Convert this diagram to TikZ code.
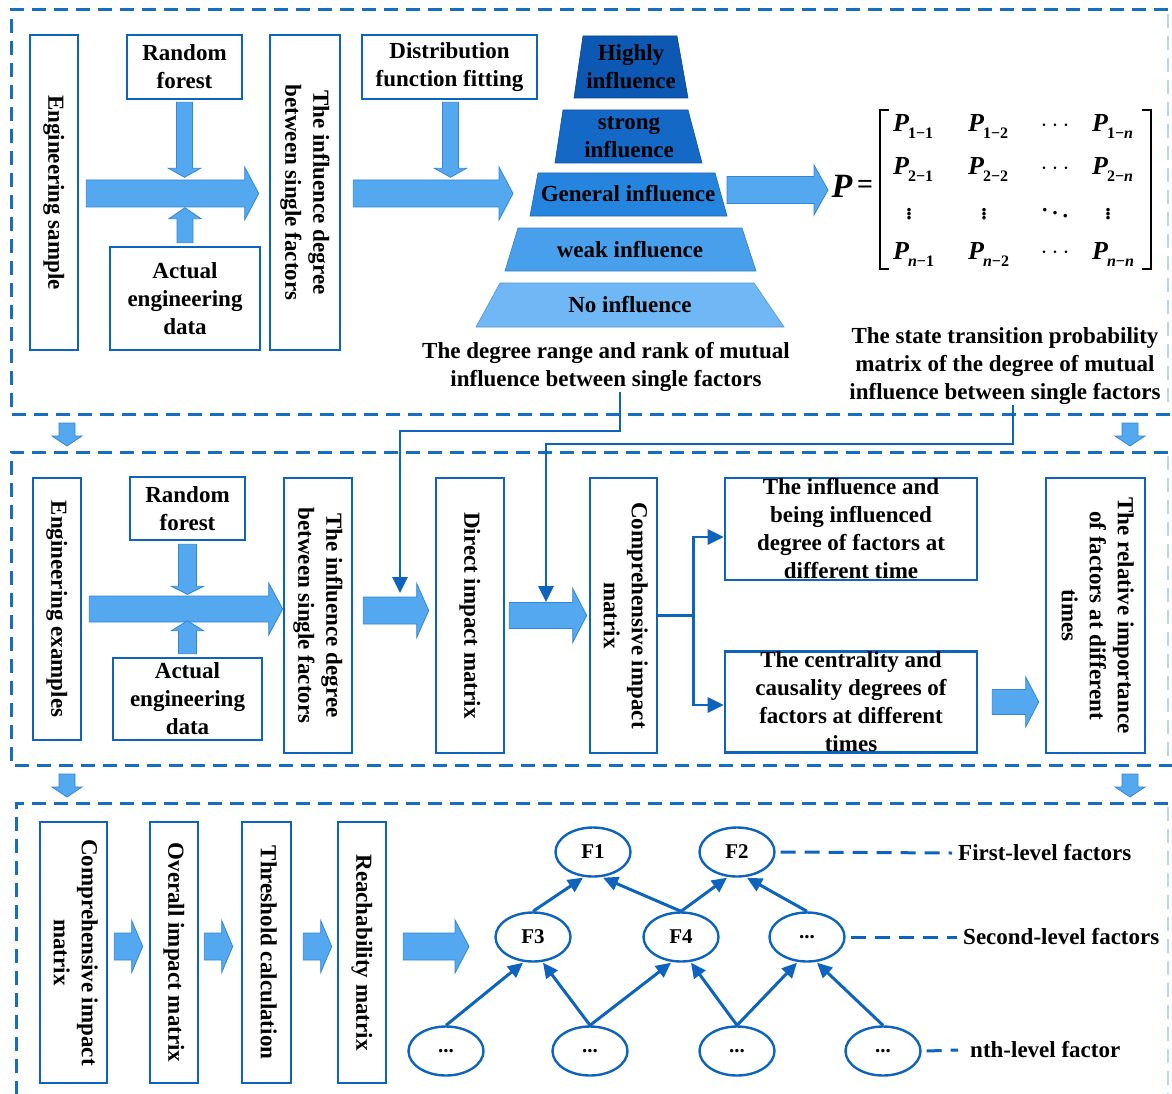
\documentclass[tikz,border=0pt]{standalone}
\usepackage{fontspec}
\setmainfont{Liberation Serif}
\usepackage{graphicx}
\usetikzlibrary{arrows.meta,calc,shapes.geometric}

\definecolor{frameblue}{RGB}{22,110,192}
\definecolor{lineblue}{RGB}{12,100,190}
\definecolor{paleedge}{RGB}{180,215,242}
\definecolor{fatfill}{RGB}{84,168,240}
\definecolor{fatedge}{RGB}{50,135,215}
\definecolor{lvA}{RGB}{12,88,178}
\definecolor{lvB}{RGB}{20,104,198}
\definecolor{lvC}{RGB}{36,132,222}
\definecolor{lvD}{RGB}{72,160,236}
\definecolor{lvE}{RGB}{112,184,245}

\newcommand\mainsize{\fontsize{23}{28}\selectfont\bfseries}
\newcommand\vtext[1]{\rotatebox{-90}{\begin{tabular}{@{}c@{}}#1\end{tabular}}}
% framed box of fixed size with its text laid over the centre
\newcommand\tbox[5]{\node[boxframe, minimum width=#3, minimum height=#4] (#1) at (#2) {};
  \node[boxtext] (#1-t) at (#1.center) {#5};}
% block arrows: start, end, shaft half width, head half width, head length
\newcommand\rarrow[5]{\draw[fatarrow] let \p1=(#1), \p2=(#2) in
  (\x1,\y1+#3) -- (\x2-#5,\y1+#3) -- (\x2-#5,\y1+#4) -- (\x2,\y1) --
  (\x2-#5,\y1-#4) -- (\x2-#5,\y1-#3) -- (\x1,\y1-#3) -- cycle;}
\newcommand\darrow[5]{\draw[fatarrow] let \p1=(#1), \p2=(#2) in
  (\x1-#3,\y1) -- (\x1-#3,\y2+#5) -- (\x1-#4,\y2+#5) -- (\x1,\y2) --
  (\x1+#4,\y2+#5) -- (\x1+#3,\y2+#5) -- (\x1+#3,\y1) -- cycle;}
\newcommand\uarrow[5]{\draw[fatarrow] let \p1=(#1), \p2=(#2) in
  (\x1-#3,\y1) -- (\x1-#3,\y2-#5) -- (\x1-#4,\y2-#5) -- (\x1,\y2) --
  (\x1+#4,\y2-#5) -- (\x1+#3,\y2-#5) -- (\x1+#3,\y1) -- cycle;}
% matrix entries P_{i-j}
\newcommand\Pent[2]{\bfseries\itshape P\kern-1pt\raisebox{-7pt}{\fontsize{16}{16}\selectfont\bfseries\upshape #1\char"2212\relax #2}}
\newcommand\nsub{{\itshape n}}

\tikzset{
  stagebox/.style={draw=frameblue, line width=3pt, dash pattern=on 14pt off 8pt},
  paleside/.style={draw=paleedge, line width=2pt, dash pattern=on 14pt off 8pt},
  boxframe/.style={draw=lineblue, line width=2.6pt, fill=white, inner sep=0pt},
  boxtext/.style={inner sep=0pt, align=center, font=\mainsize},
  fatarrow/.style={fill=fatfill, draw=fatedge, line width=0.8pt},
  thinlink/.style={draw=lineblue, line width=2.8pt},
  tiplink/.style={thinlink, -{Triangle[length=16pt,width=15pt]}},
  fac/.style={ellipse, draw=lineblue, line width=2.4pt, minimum width=75pt,
    minimum height=49pt, inner sep=0pt, font=\fontsize{21}{24}\selectfont\bfseries},
  graphedge/.style={draw=lineblue, line width=3pt, -{Triangle[length=15pt,width=14pt]}},
  levelguide/.style={draw=lineblue, line width=3pt, dash pattern=on 15pt off 9pt},
  layer/.style={draw=#1!80!black, line width=0.6pt, fill=#1},
  pent/.style={inner sep=0pt, anchor=base west, font=\fontsize{26}{30}\selectfont},
  pdots/.style={inner sep=0pt, font=\fontsize{28}{30}\selectfont},
  pvdots/.style={inner sep=0pt, font=\fontsize{30}{30}\selectfont},
  bracket/.style={draw=black, line width=1.4pt}
}

\begin{document}
\begin{tikzpicture}[x=1pt,y=-1pt]
\useasboundingbox (0,0) rectangle (1172,1094);
\fill[white] (0,0) rectangle (1172,1094);
\clip (0,0) rectangle (1172,1094);

% ---------- stage frames ----------
\draw[stagebox] (1190,10) -- (11,10) -- (11,414) -- (1190,414);
\draw[stagebox] (1190,452) -- (11,452) -- (11,765) -- (1190,765);
\draw[stagebox] (1190,803) -- (16,803) -- (16,1110);
\draw[paleside] (1168,14) -- (1168,410);
\draw[paleside] (1168,456) -- (1168,761);
\draw[paleside] (1168,807) -- (1168,1094);

% arrows between stages
\coordinate (sA1) at (67,423); \coordinate (sA2) at (67,446);
\coordinate (sB1) at (1130,423); \coordinate (sB2) at (1130,446);
\coordinate (sC1) at (67,774); \coordinate (sC2) at (67,797);
\coordinate (sD1) at (1130,774); \coordinate (sD2) at (1130,797);
\darrow{sA1}{sA2}{8pt}{15pt}{10pt}
\darrow{sB1}{sB2}{8pt}{15pt}{10pt}
\darrow{sC1}{sC2}{8pt}{15pt}{10pt}
\darrow{sD1}{sD2}{8pt}{15pt}{10pt}

% ---------- stage 1 ----------
\tbox{es}{54,192.5}{48pt}{315pt}{\vtext{Engineering sample}}
\tbox{rfa}{184.5,67}{115pt}{64pt}{Random\\forest}
\tbox{ada}{185,298.5}{150pt}{103pt}{Actual\\engineering\\data}
\tbox{ida}{305,192.5}{70pt}{315pt}{\vtext{The influence degree\\between single factors}}
\tbox{dff}{449.5,67}{175pt}{64pt}{Distribution\\function fitting}

\rarrow{[xshift=7pt,yshift=-1pt]es.east}{[xshift=-10pt,yshift=-1pt]ida.west}{13.5pt}{26.5pt}{14pt}
\darrow{[yshift=-2pt]rfa.south}{[yshift=-77pt]rfa.south}{8pt}{16pt}{9pt}
\uarrow{[yshift=3pt]ada.north}{[yshift=38pt]ada.north}{8pt}{16pt}{11pt}
\coordinate (pyrin) at (513,193);
\rarrow{[xshift=12pt,yshift=-1pt]ida.east}{pyrin}{13.5pt}{26.5pt}{14pt}
\darrow{[xshift=1pt,yshift=-2pt]dff.south}{[xshift=1pt,yshift=-77pt]dff.south}{8pt}{16pt}{9pt}

% pyramid of influence grades
\path[layer=lvA] (583,36) -- (677,36) -- (688,98) -- (574,98) -- cycle;
\path[layer=lvB] (563,110) -- (688,110) -- (702,163) -- (555,163) -- cycle;
\path[layer=lvC] (538,173) -- (715,173) -- (727,216) -- (530,216) -- cycle;
\path[layer=lvD] (518,228) -- (742,228) -- (756,271) -- (505,271) -- cycle;
\path[layer=lvE] (500,283) -- (754,283) -- (784,327) -- (476,327) -- cycle;
\node[boxtext] (lvAt) at (631,67) {Highly\\influence};
\node[boxtext] (lvBt) at (629,137) {strong\\influence};
\node[boxtext] (lvCt) at (628,194) {General influence};
\node[boxtext] (lvDt) at (630,250) {weak influence};
\node[boxtext] (lvEt) at (630,305) {No influence};
\node[boxtext] (capa) at (606,367) {The degree range and rank of mutual\\influence between single factors};

% transition matrix
\coordinate (genr) at (727,190);
\coordinate (pin) at (828,190);
\rarrow{genr}{pin}{13.5pt}{25pt}{14pt}
\node[inner sep=0pt, font=\fontsize{34}{34}\selectfont\bfseries\itshape] (pP) at (842,186) {P};
\node[inner sep=0pt, font=\fontsize{28}{28}\selectfont\bfseries] (peq) at (865,187) {=};
\draw[bracket] (889,110) -- (880,110) -- (880,269) -- (889,269);
\draw[bracket] (1142,110) -- (1151,110) -- (1151,269) -- (1142,269);
\node[pent] (m11) at (893,132) {\Pent{1}{1}};
\node[pent] (m12) at (968,132) {\Pent{1}{2}};
\node[pdots] (m13) at (1055,126) {$\cdots$};
\node[pent] (m14) at (1092,132) {\Pent{1}{\nsub}};
\node[pent] (m21) at (893,175) {\Pent{2}{1}};
\node[pent] (m22) at (968,175) {\Pent{2}{2}};
\node[pdots] (m23) at (1055,169) {$\cdots$};
\node[pent] (m24) at (1092,175) {\Pent{2}{\nsub}};
\node[pvdots] (m31) at (909,211) {$\vdots$};
\node[pvdots] (m32) at (984,211) {$\vdots$};
\node[pvdots] (m33) at (1055,210) {$\ddots$};
\node[pvdots] (m34) at (1108,211) {$\vdots$};
\node[pent] (m41) at (893,259) {\Pent{\nsub}{1}};
\node[pent] (m42) at (968,259) {\Pent{\nsub}{2}};
\node[pdots] (m43) at (1055,253) {$\cdots$};
\node[pent] (m44) at (1092,259) {\Pent{\nsub}{\nsub}};
\node[boxtext] (capb) at (1005,366) {The state transition probability\\matrix of the degree of mutual\\influence between single factors};

% ---------- stage 2 ----------
\tbox{exm}{57,609}{48pt}{262pt}{\vtext{Engineering examples}}
\tbox{rfb}{187.5,508.5}{115pt}{63pt}{Random\\forest}
\tbox{adb}{187.5,699}{149pt}{82pt}{Actual\\engineering\\data}
\tbox{idb}{318,615.5}{68pt}{275pt}{\vtext{The influence degree\\between single factors}}
\tbox{dim}{470,615.5}{68pt}{275pt}{\vtext{Direct impact matrix}}
\tbox{cima}{623.5,615.5}{67pt}{275pt}{\vtext{Comprehensive impact\\matrix}}
\tbox{ibx}{851,529}{252pt}{102pt}{The influence and\\being influenced\\degree of factors at\\different time}
\tbox{cbx}{851,702}{252pt}{101pt}{The centrality and\\causality degrees of\\factors at different\\times}
\tbox{rim}{1095.5,615.5}{99pt}{275pt}{\vtext{The relative importance\\of factors at different\\times}}

\rarrow{[xshift=7pt]exm.east}{idb.west}{13pt}{26pt}{14pt}
\darrow{[yshift=-3pt]rfb.south}{[yshift=-53pt]rfb.south}{9pt}{16pt}{8pt}
\uarrow{[yshift=3pt]adb.north}{[yshift=36pt]adb.north}{9pt}{16pt}{10pt}
\rarrow{[xshift=10pt,yshift=5pt]idb.east}{[xshift=-6pt,yshift=5pt]dim.west}{13.5pt}{27pt}{12pt}
\rarrow{[xshift=4pt]dim.east}{[xshift=-2pt]cima.west}{13pt}{27pt}{14pt}
\rarrow{[xshift=14pt]cbx.east}{[xshift=-6pt]rim.west}{12.5pt}{25pt}{13pt}

% links carrying stage 1 results into stage 2
\coordinate (c1knee) at (400,431);
\coordinate (c1tip) at (400,593);
\coordinate (c2knee) at (546,444);
\coordinate (c2tip) at (546,602);
\draw[tiplink] ([xshift=14pt]capa.south) |- (c1knee) -- (c1tip);
\draw[tiplink] ([xshift=8pt]capb.south) |- (c2knee) -- (c2tip);

% branch from the comprehensive impact matrix
\draw[thinlink] (cima.east) -- ++(35,0) coordinate (brj);
\draw[tiplink] (brj) |- ([yshift=-8pt]ibx.west);
\draw[tiplink] (brj) |- ([yshift=-3pt]cbx.west);

% ---------- stage 3 ----------
\tbox{cimb}{73.5,952.5}{67pt}{261pt}{\vtext{Comprehensive impact\\matrix}}
\tbox{oim}{174,952.5}{48pt}{261pt}{\vtext{Overall impact matrix}}
\tbox{thc}{266.5,952.5}{49pt}{261pt}{\vtext{Threshold calculation}}
\tbox{rch}{362,952.5}{48pt}{261pt}{\vtext{Reachability matrix}}

\rarrow{[xshift=6pt,yshift=6pt]cimb.east}{[xshift=-6pt,yshift=6pt]oim.west}{13.5pt}{26pt}{11pt}
\rarrow{[xshift=5pt,yshift=6pt]oim.east}{[xshift=-8pt,yshift=6pt]thc.west}{13.5pt}{26pt}{11pt}
\rarrow{[xshift=11pt,yshift=6pt]thc.east}{[xshift=-5pt,yshift=6pt]rch.west}{13.5pt}{26pt}{11pt}
\coordinate (gin) at (469,946);
\rarrow{[xshift=16pt,yshift=6pt]rch.east}{gin}{13.5pt}{26.5pt}{14pt}

% factor hierarchy
\node[fac] (F1) at (593,852) {F1};
\node[fac] (F2) at (737,852) {F2};
\node[fac] (F3) at (533,937) {F3};
\node[fac] (F4) at (681,937) {F4};
\node[fac] (S5) at (807,937) {...};
\node[fac] (N1) at (446,1051) {...};
\node[fac] (N2) at (590,1051) {...};
\node[fac] (N3) at (737,1051) {...};
\node[fac] (N4) at (883,1051) {...};

\draw[graphedge] (F3.north) -- ([xshift=-10pt]F1.south);
\draw[graphedge] (F4.north) -- ([xshift=10pt]F1.south);
\draw[graphedge] (F4.north) -- ([xshift=-10pt]F2.south);
\draw[graphedge] (S5.north) -- ([xshift=10pt]F2.south);
\draw[graphedge] (N1.north) -- ([xshift=-10pt]F3.south);
\draw[graphedge] (N2.north) -- ([xshift=10pt]F3.south);
\draw[graphedge] (N2.north) -- ([xshift=-10pt]F4.south);
\draw[graphedge] (N3.north) -- ([xshift=10pt]F4.south);
\draw[graphedge] (N3.north) -- ([xshift=-10pt]S5.south);
\draw[graphedge] (N4.north) -- ([xshift=10pt]S5.south);

\node[boxtext, anchor=west] (lab1) at (958,853) {First-level factors};
\node[boxtext, anchor=west] (lab2) at (963,937) {Second-level factors};
\node[boxtext, anchor=west] (lab3) at (970,1050) {nth-level factor};
\draw[levelguide] ([xshift=5pt]F2.east) -- ([xshift=-6pt]lab1.west);
\draw[levelguide] ([xshift=5pt]S5.east) -- ([xshift=-6pt]lab2.west);
\draw[levelguide] ([xshift=5pt]N4.east) -- ([xshift=-12pt]lab3.west);
\end{tikzpicture}
\end{document}
